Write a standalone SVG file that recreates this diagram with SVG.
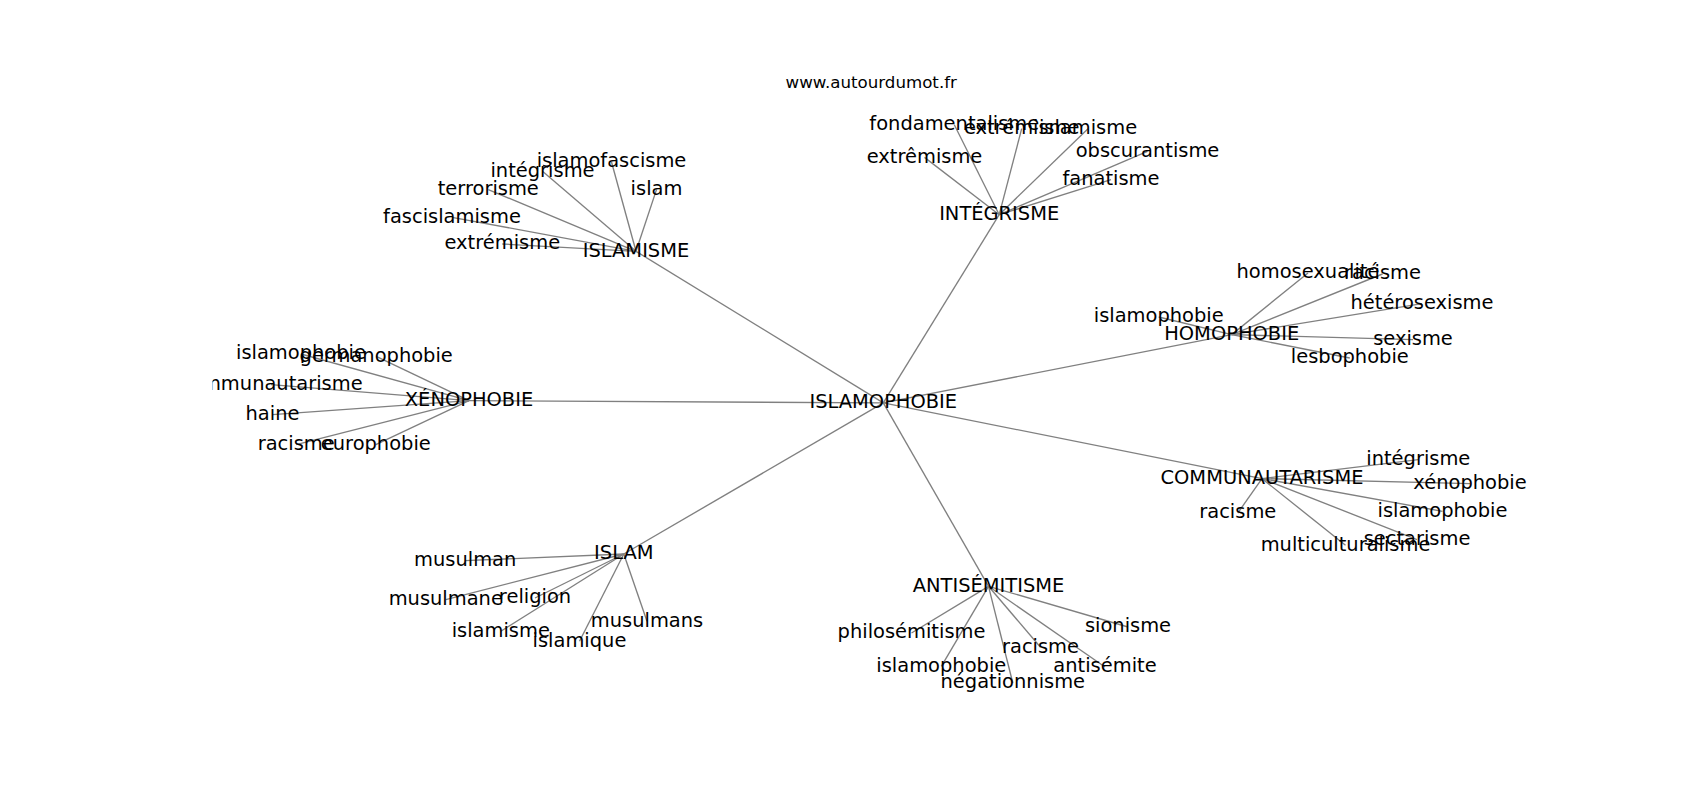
<svg xmlns="http://www.w3.org/2000/svg" width="1700" height="800" viewBox="0 0 1700 800">
<defs>
<clipPath id="axes"><rect x="212.5" y="96" width="1317.5" height="616"/></clipPath>
</defs>
<style>
.e line{stroke:#808080;stroke-width:1.35;fill:none}
text{font-family:"DejaVu Sans","Liberation Sans",sans-serif;fill:#000}
.n text{font-size:19.44px;text-anchor:middle}
.t{font-size:16.67px;text-anchor:middle}
</style>
<rect width="1700" height="800" fill="#fff"/>
<text class="t" x="871.25" y="88">www.autourdumot.fr</text>
<g clip-path="url(#axes)">
<g id="edges" class="e">
<line x1="883.3" y1="402.9" x2="636" y2="251.3"/>
<line x1="883.3" y1="402.9" x2="999.2" y2="214.7"/>
<line x1="883.3" y1="402.9" x2="1231.7" y2="334.6"/>
<line x1="883.3" y1="402.9" x2="1262" y2="478.6"/>
<line x1="883.3" y1="402.9" x2="988.5" y2="586.3"/>
<line x1="883.3" y1="402.9" x2="623.8" y2="554"/>
<line x1="883.3" y1="402.9" x2="469" y2="400.6"/>
<line x1="636" y1="251.3" x2="611.5" y2="162"/>
<line x1="636" y1="251.3" x2="542.5" y2="171.3"/>
<line x1="636" y1="251.3" x2="488.3" y2="189.6"/>
<line x1="636" y1="251.3" x2="656.5" y2="189.6"/>
<line x1="636" y1="251.3" x2="452" y2="217.3"/>
<line x1="636" y1="251.3" x2="502.3" y2="244"/>
<line x1="999.2" y1="214.7" x2="954.3" y2="124.7"/>
<line x1="999.2" y1="214.7" x2="1021.7" y2="128.7"/>
<line x1="999.2" y1="214.7" x2="1088" y2="128.7"/>
<line x1="999.2" y1="214.7" x2="924.5" y2="157.4"/>
<line x1="999.2" y1="214.7" x2="1147.5" y2="151.4"/>
<line x1="999.2" y1="214.7" x2="1111" y2="179.7"/>
<line x1="1231.7" y1="334.6" x2="1308" y2="273"/>
<line x1="1231.7" y1="334.6" x2="1382.5" y2="274"/>
<line x1="1231.7" y1="334.6" x2="1422" y2="303.7"/>
<line x1="1231.7" y1="334.6" x2="1158.7" y2="317"/>
<line x1="1231.7" y1="334.6" x2="1413" y2="339.6"/>
<line x1="1231.7" y1="334.6" x2="1349.8" y2="358"/>
<line x1="1262" y1="478.6" x2="1418.3" y2="459.6"/>
<line x1="1262" y1="478.6" x2="1470" y2="483.7"/>
<line x1="1262" y1="478.6" x2="1442.5" y2="511.3"/>
<line x1="1262" y1="478.6" x2="1237.8" y2="513"/>
<line x1="1262" y1="478.6" x2="1417" y2="539.6"/>
<line x1="1262" y1="478.6" x2="1345.5" y2="545.3"/>
<line x1="988.5" y1="586.3" x2="911.5" y2="633"/>
<line x1="988.5" y1="586.3" x2="1128" y2="627"/>
<line x1="988.5" y1="586.3" x2="1040.5" y2="647.3"/>
<line x1="988.5" y1="586.3" x2="941.3" y2="666.3"/>
<line x1="988.5" y1="586.3" x2="1105" y2="667"/>
<line x1="988.5" y1="586.3" x2="1012.8" y2="683"/>
<line x1="623.8" y1="554" x2="465.2" y2="560.6"/>
<line x1="623.8" y1="554" x2="445.8" y2="599.6"/>
<line x1="623.8" y1="554" x2="535" y2="598"/>
<line x1="623.8" y1="554" x2="500.8" y2="631.3"/>
<line x1="623.8" y1="554" x2="579.5" y2="641.3"/>
<line x1="623.8" y1="554" x2="647" y2="621.3"/>
<line x1="469" y1="400.6" x2="301" y2="354"/>
<line x1="469" y1="400.6" x2="376.2" y2="356.3"/>
<line x1="469" y1="400.6" x2="271" y2="384.6"/>
<line x1="469" y1="400.6" x2="272.5" y2="414.6"/>
<line x1="469" y1="400.6" x2="296.2" y2="444.6"/>
<line x1="469" y1="400.6" x2="375.8" y2="444.6"/>
</g>
<g id="islamophobie" class="n"><text x="883.3" y="408.3">ISLAMOPHOBIE</text></g>
<g id="islamisme" class="n"><text x="636" y="256.7">ISLAMISME</text></g>
<g id="islamisme-islamofascisme" class="n"><text x="611.5" y="167.4">islamofascisme</text></g>
<g id="islamisme-integrisme" class="n"><text x="542.5" y="176.7">intégrisme</text></g>
<g id="islamisme-terrorisme" class="n"><text x="488.3" y="195">terrorisme</text></g>
<g id="islamisme-islam" class="n"><text x="656.5" y="195">islam</text></g>
<g id="islamisme-fascislamisme" class="n"><text x="452" y="222.7">fascislamisme</text></g>
<g id="islamisme-extremisme" class="n"><text x="502.3" y="249.4">extrémisme</text></g>
<g id="integrisme" class="n"><text x="999.2" y="220.1">INTÉGRISME</text></g>
<g id="integrisme-fondamentalisme" class="n"><text x="954.3" y="130.1">fondamentalisme</text></g>
<g id="integrisme-extremisme" class="n"><text x="1021.7" y="134.1">extrémisme</text></g>
<g id="integrisme-islamisme" class="n"><text x="1088" y="134.1">islamisme</text></g>
<g id="integrisme-extremisme2" class="n"><text x="924.5" y="162.8">extrêmisme</text></g>
<g id="integrisme-obscurantisme" class="n"><text x="1147.5" y="156.8">obscurantisme</text></g>
<g id="integrisme-fanatisme" class="n"><text x="1111" y="185.1">fanatisme</text></g>
<g id="homophobie" class="n"><text x="1231.7" y="340">HOMOPHOBIE</text></g>
<g id="homophobie-homosexualite" class="n"><text x="1308" y="278.4">homosexualité</text></g>
<g id="homophobie-racisme" class="n"><text x="1382.5" y="279.4">racisme</text></g>
<g id="homophobie-heterosexisme" class="n"><text x="1422" y="309.1">hétérosexisme</text></g>
<g id="homophobie-islamophobie" class="n"><text x="1158.7" y="322.4">islamophobie</text></g>
<g id="homophobie-sexisme" class="n"><text x="1413" y="345">sexisme</text></g>
<g id="homophobie-lesbophobie" class="n"><text x="1349.8" y="363.4">lesbophobie</text></g>
<g id="communautarisme" class="n"><text x="1262" y="484">COMMUNAUTARISME</text></g>
<g id="communautarisme-integrisme" class="n"><text x="1418.3" y="465">intégrisme</text></g>
<g id="communautarisme-xenophobie" class="n"><text x="1470" y="489.1">xénophobie</text></g>
<g id="communautarisme-islamophobie" class="n"><text x="1442.5" y="516.7">islamophobie</text></g>
<g id="communautarisme-racisme" class="n"><text x="1237.8" y="518.4">racisme</text></g>
<g id="communautarisme-sectarisme" class="n"><text x="1417" y="545">sectarisme</text></g>
<g id="communautarisme-multiculturalisme" class="n"><text x="1345.5" y="550.7">multiculturalisme</text></g>
<g id="antisemitisme" class="n"><text x="988.5" y="591.7">ANTISÉMITISME</text></g>
<g id="antisemitisme-philosemitisme" class="n"><text x="911.5" y="638.4">philosémitisme</text></g>
<g id="antisemitisme-sionisme" class="n"><text x="1128" y="632.4">sionisme</text></g>
<g id="antisemitisme-racisme" class="n"><text x="1040.5" y="652.7">racisme</text></g>
<g id="antisemitisme-islamophobie" class="n"><text x="941.3" y="671.7">islamophobie</text></g>
<g id="antisemitisme-antisemite" class="n"><text x="1105" y="672.4">antisémite</text></g>
<g id="antisemitisme-negationnisme" class="n"><text x="1012.8" y="688.4">négationnisme</text></g>
<g id="islam" class="n"><text x="623.8" y="559.4">ISLAM</text></g>
<g id="islam-musulman" class="n"><text x="465.2" y="566">musulman</text></g>
<g id="islam-musulmane" class="n"><text x="445.8" y="605">musulmane</text></g>
<g id="islam-religion" class="n"><text x="535" y="603.4">religion</text></g>
<g id="islam-islamisme" class="n"><text x="500.8" y="636.7">islamisme</text></g>
<g id="islam-islamique" class="n"><text x="579.5" y="646.7">islamique</text></g>
<g id="islam-musulmans" class="n"><text x="647" y="626.7">musulmans</text></g>
<g id="xenophobie" class="n"><text x="469" y="406">XÉNOPHOBIE</text></g>
<g id="xenophobie-islamophobie" class="n"><text x="301" y="359.4">islamophobie</text></g>
<g id="xenophobie-germanophobie" class="n"><text x="376.2" y="361.7">germanophobie</text></g>
<g id="xenophobie-communautarisme" class="n"><text x="271" y="390">communautarisme</text></g>
<g id="xenophobie-haine" class="n"><text x="272.5" y="420">haine</text></g>
<g id="xenophobie-racisme" class="n"><text x="296.2" y="450">racisme</text></g>
<g id="xenophobie-europhobie" class="n"><text x="375.8" y="450">europhobie</text></g>
</g>
</svg>
